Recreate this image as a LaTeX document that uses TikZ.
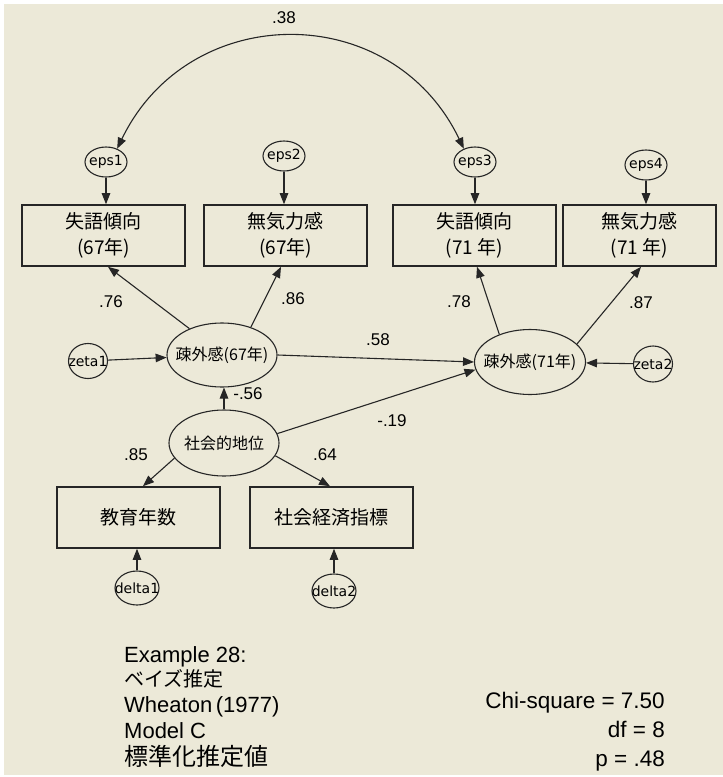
\documentclass[tikz,border=0pt]{standalone}
\usepackage{fontspec}
\setmainfont{Liberation Sans}
\newfontfamily\cjk{Noto Sans CJK JP}
\newfontfamily\dvs{DejaVu Sans}
\usetikzlibrary{shapes.geometric,arrows.meta}
\definecolor{bg}{HTML}{ECE9D8}
\definecolor{ln}{HTML}{262626}
\begin{document}
\begin{tikzpicture}[x=1pt,y=-1pt,
  obs/.style={draw=ln, line width=1.6pt, rectangle, minimum width=163pt, minimum height=61pt, inner sep=0pt, align=center, font=\cjk\fontsize{19}{26}\selectfont},
  lat/.style={draw=ln, line width=1.1pt, ellipse, minimum width=110pt, minimum height=64pt, inner sep=0pt},
  err/.style={draw=ln, line width=1.1pt, ellipse, minimum width=42pt, minimum height=30pt, inner sep=0pt},
  ltext/.style={font=\cjk\fontsize{16}{18}\selectfont, inner sep=0pt},
  etext/.style={font=\dvs\fontsize{14}{16}\selectfont, inner sep=0pt},
  coef/.style={font=\fontsize{17}{20}\selectfont, inner sep=0pt},
  arr/.style={draw=ln, line width=1.1pt, -{Triangle[length=11pt,width=8.5pt]}},
  darr/.style={draw=ln, line width=1.1pt, {Triangle[length=11pt,width=8.5pt]}-{Triangle[length=11pt,width=8.5pt]}},
  note/.style={inner sep=0pt, font=\fontsize{22}{24}\selectfont}
]
\useasboundingbox (0,0) rectangle (723,777);
\fill[white] (0,0) rectangle (723,777);
\fill[bg] (4,4) rectangle (723,775);

% error terms top
\node[err] (eps1) at (106,162) {};
\node[err] (eps2) at (284,156) {};
\node[err] (eps3) at (475,162) {};
\node[err] (eps4) at (646,165) {};
\node[etext] (eps1t) at (eps1) {eps1};
\node[etext] (eps2t) at (eps2) {eps2};
\node[etext] (eps3t) at (eps3) {eps3};
\node[etext] (eps4t) at (eps4) {eps4};

% observed top
\node[obs] (box1) at (103.5,235.5) {失語傾向\\(67年)};
\node[obs] (box2) at (285.5,235.5) {無気力感\\(67年)};
\node[obs] (box3) at (474.5,235.5) {失語傾向\\(71 年)};
\node[obs, minimum width=153pt] (box4) at (639.5,235.5) {無気力感\\(71 年)};

% latent
\node[lat] (e67) at (222,355) {};
\node[ltext] (e67t) at (e67) {疎外感(67年)};
\node[lat, minimum width=111pt, minimum height=65pt] (e71) at (530,362) {};
\node[ltext] (e71t) at (e71) {疎外感(71年)};
\node[lat, minimum height=66pt] (ses) at (224,443) {};
\node[ltext] (sest) at (ses) {社会的地位};

\node[err, minimum width=39pt, minimum height=35pt] (zeta1) at (88,361) {};
\node[etext] (zeta1t) at (zeta1) {zeta1};
\node[err, minimum width=39pt, minimum height=36pt] (zeta2) at (653,364) {};
\node[etext] (zeta2t) at (zeta2) {zeta2};

% observed bottom
\node[obs] (box5) at (138.5,517.5) {教育年数};
\node[obs] (box6) at (331.5,517.5) {社会経済指標};
\node[err, minimum width=44pt, minimum height=34pt] (delta1) at (137,588) {};
\node[etext] (delta1t) at (delta1) {delta1};
\node[err, minimum width=44pt, minimum height=34pt] (delta2) at (334,591) {};
\node[etext] (delta2t) at (delta2) {delta2};

% arrows: errors to indicators
\draw[arr] (eps1) -- (eps1 |- box1.north);
\draw[arr] (eps2) -- (eps2 |- box2.north);
\draw[arr] (eps3) -- (eps3 |- box3.north);
\draw[arr] (eps4) -- (eps4 |- box4.north);
\draw[arr] (delta1) -- (delta1 |- box5.south);
\draw[arr] (delta2) -- (delta2 |- box6.south);

% loadings
\draw[arr] (e67.141) -- ([xshift=4.5pt]box1.south);
\draw[arr] (e67.44) -- ([xshift=-4.5pt]box2.south);
\draw[arr] (e71.138) -- ([xshift=2.5pt]box3.south);
\draw[arr] (e71.21) -- ([xshift=1.5pt]box4.south);
\draw[arr] (ses.197) -- ([xshift=4.5pt]box5.north);
\draw[arr] (ses.346) -- ([xshift=-1.5pt]box6.north);

% structural
\draw[arr] (zeta1) -- (e67);
\draw[arr] (zeta2) -- (e71);
\draw[arr] (e67.east) -- (e71.west);
\draw[arr] (ses) -- (ses |- e67.south);
\draw[arr] (ses.10) -- (e71.188);

% covariance
\draw[darr] (eps1.50) .. controls (189,0) and (392,-1) .. (eps3.130);

% coefficients
\node[coef] (c38) at (284,18) {.38};
\node[coef] (c76) at (111,302) {.76};
\node[coef] (c86) at (293,299) {.86};
\node[coef] (c78) at (459,302) {.78};
\node[coef] (c87) at (641,303) {.87};
\node[coef] (c58) at (378,340) {.58};
\node[coef] (c56) at (248,394) {-.56};
\node[coef] (c19) at (392,421) {-.19};
\node[coef] (c85) at (136,455) {.85};
\node[coef] (c64) at (325,455) {.64};

% notes
\node[note, anchor=base west] (n1) at (124,662) {Example 28:};
\node[note, anchor=base west, font=\cjk\fontsize{20}{24}\selectfont] (n2) at (124,686) {ベイズ推定};
\node[note, anchor=base west] (n3) at (124,712) {Wheaton\,(1977)};
\node[note, anchor=base west] (n4) at (124,738) {Model C};
\node[note, anchor=base west, font=\cjk\fontsize{24}{26}\selectfont] (n5) at (124,765) {標準化推定値};
\node[note, anchor=base east, font=\fontsize{22.5}{26}\selectfont] (n6) at (665,708) {Chi-square = 7.50};
\node[note, anchor=base east, font=\fontsize{22.5}{26}\selectfont] (n7) at (665,737) {df = 8};
\node[note, anchor=base east, font=\fontsize{22.5}{26}\selectfont] (n8) at (665,766) {p = .48};
\end{tikzpicture}
\end{document}
